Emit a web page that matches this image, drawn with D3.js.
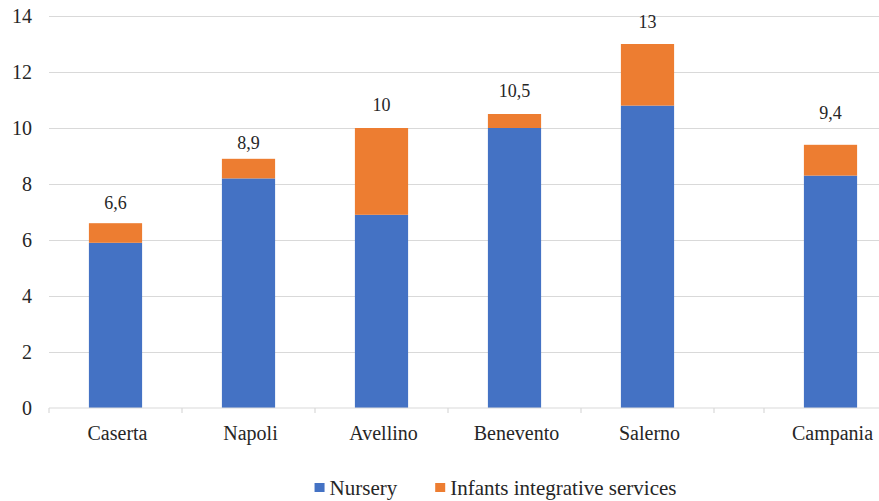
<!DOCTYPE html>
<html>
<head>
<meta charset="utf-8">
<script src="https://cdn.jsdelivr.net/npm/d3@7"></script>
</head>
<body style="margin:0">
<svg id="chart" width="879" height="501" font-family="Liberation Serif"></svg>
<script>
// Places per 100 children: nursery and integrative services, by province and region
const categories = ["Caserta", "Napoli", "Avellino", "Benevento", "Salerno", "Campania"];
const groups     = ["province", "province", "province", "province", "province", "region"];
const nursery    = [5.9, 8.2, 6.9, 10.0, 10.8, 8.3];
const totals     = [6.6, 8.9, 10, 10.5, 13, 9.4];
const totalLabels = ["6,6", "8,9", "10", "10,5", "13", "9,4"];
const yTicks     = [0, 2, 4, 6, 8, 10, 12, 14];
const seriesNames = ["Nursery", "Infants integrative services"];

const colors = { nursery: "#4472C4", integrative: "#ED7D31" };
const textColor = "#262626";
const serifFamily = "Liberation Serif";

const svg = d3.select("#chart");
const W = 879;
const plot = { left: 49, top: 16, bottom: 408, band: 133, regionGap: 50 };

const y = d3.scaleLinear().domain([0, 14]).range([plot.bottom, plot.top]);

const xBand = d3.scaleBand()
  .domain(categories)
  .range([plot.left, plot.left + plot.band * categories.length])
  .paddingInner(0).paddingOuter(0);

// the regional total sits apart from the provinces
const bandStart = (c, i) => xBand(c) + (groups[i] === "region" ? plot.regionGap : 0);
const barW = xBand.bandwidth() * 0.4;
const center = i => bandStart(categories[i], i) + xBand.bandwidth() / 2;

// gridlines and y labels
const yAxis = d3.axisLeft(y).tickValues(yTicks).tickSize(-(W - plot.left)).tickFormat(d3.format("d"));
const gy = svg.append("g").attr("transform", `translate(${plot.left},0)`).call(yAxis);
gy.attr("font-family", serifFamily).attr("font-size", 20);
gy.select(".domain").remove();
gy.selectAll(".tick line").attr("stroke", "#d9d9d9").attr("stroke-width", 1.2)
  .filter(d => d === 0).remove();
gy.selectAll(".tick text")
  .attr("x", -17).attr("fill", textColor)
  .style("font-family", `"${serifFamily}"`)
  .attr("font-size", 20);

// data
const rows = categories.map((c, i) => ({
  cat: c, i,
  nursery: nursery[i],
  integrative: +(totals[i] - nursery[i]).toFixed(2),
  total: totals[i], label: totalLabels[i]
}));

const stack = d3.stack().keys(["nursery", "integrative"]);
const layers = stack(rows);

svg.append("g").selectAll("g").data(layers).join("g")
  .attr("fill", d => colors[d.key])
  .selectAll("rect").data(d => d).join("rect")
  .attr("x", d => center(d.data.i) - barW / 2)
  .attr("width", barW)
  .attr("y", d => y(d[1]))
  .attr("height", d => y(d[0]) - y(d[1]));

// category axis
const axisY = plot.bottom;
svg.append("line")
  .attr("x1", plot.left).attr("x2", W)
  .attr("y1", axisY).attr("y2", axisY)
  .attr("stroke", "#d9d9d9").attr("stroke-width", 1.2);

const tickXs = [];
categories.forEach((c, i) => {
  const s = bandStart(c, i);
  tickXs.push(s, s + xBand.bandwidth());
});
const uniqTicks = Array.from(new Set(tickXs.map(v => Math.round(v)))).filter(v => v <= W);
svg.append("g").selectAll("line").data(uniqTicks).join("line")
  .attr("x1", d => d).attr("x2", d => d)
  .attr("y1", axisY).attr("y2", axisY + 5)
  .attr("stroke", "#d9d9d9").attr("stroke-width", 1.2);

svg.append("g").selectAll("text").data(rows).join("text")
  .attr("x", d => center(d.i) + 2)
  .attr("y", 440)
  .attr("text-anchor", "middle")
  .attr("fill", textColor)
  .style("font-family", `"${serifFamily}"`)
  .attr("font-size", 20)
  .text(d => d.cat);

// total labels above each stack
const labelLift = [14, 10, 17, 17, 16, 26];
svg.append("g").selectAll("text").data(rows).join("text")
  .attr("x", d => center(d.i))
  .attr("y", d => y(d.total) - labelLift[d.i])
  .attr("text-anchor", "middle")
  .attr("fill", textColor)
  .style("font-family", `"${serifFamily}"`)
  .attr("font-size", 18)
  .text(d => d.label);

// legend
const legend = svg.append("g");
const legendColors = [colors.nursery, colors.integrative];
let lx = 0;
seriesNames.forEach((name, k) => {
  const g = legend.append("g");
  g.append("rect").attr("x", 0).attr("y", -12).attr("width", 10).attr("height", 9)
    .attr("fill", legendColors[k]);
  const t = g.append("text").attr("x", 15).attr("y", 0)
    .attr("fill", textColor)
    .style("font-family", `"${serifFamily}"`)
    .attr("font-size", 21)
    .text(name);
  const w = 15 + t.node().getComputedTextLength();
  g.attr("transform", `translate(${lx},0)`);
  lx += w + 38;
});
const legendW = lx - 38;
legend.attr("transform", `translate(${(313 + 678) / 2 - legendW / 2},495)`);
</script>
</body>
</html>
